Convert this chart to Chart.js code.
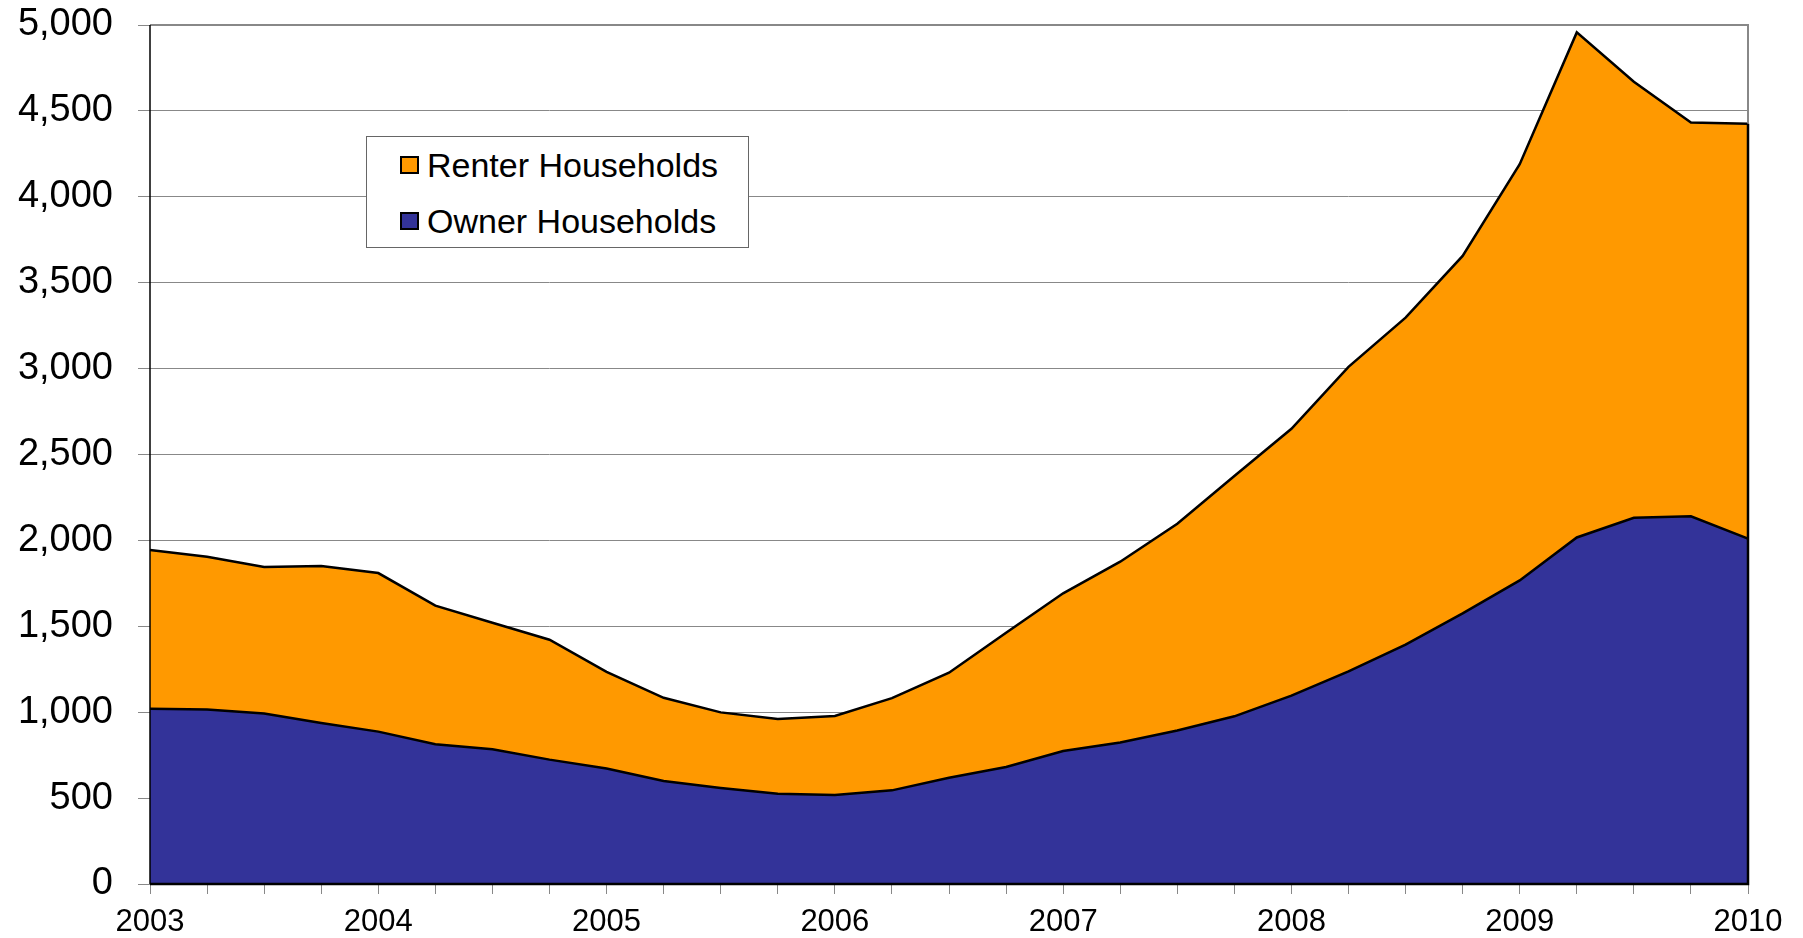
<!DOCTYPE html>
<html lang="en">

<head>
    <meta charset="UTF-8">
    <title>Renter and Owner Households</title>
    <script src="https://cdn.jsdelivr.net/npm/chart.js"></script>
    <style>
        body { margin: 0; background: #fff; overflow: hidden; }
        .box { position: relative; width: 1803px; height: 938px; }
        #legend {
            position: absolute; left: 366px; top: 136px; width: 383px; height: 112px;
            box-sizing: border-box; border: 1px solid #666; background: #fff;
            font-family: "Liberation Sans", Arial, sans-serif; font-size: 34px; color: #000;
        }
        .item { position: absolute; left: 33px; height: 40px; display: flex; align-items: center; white-space: nowrap; }
        .mark { width: 19px; height: 18px; box-sizing: border-box; border: 2px solid #000; margin-right: 8px; }
    </style>
</head>

<body>
    <div class="box">
        <canvas id="grafico" width="1803" height="938"></canvas>
        <div id="legend"></div>
    </div>

    <script>
        // quarterly data, thousands of households
        const quarters = [
            '2003 Q1', '2003 Q2', '2003 Q3', '2003 Q4',
            '2004 Q1', '2004 Q2', '2004 Q3', '2004 Q4',
            '2005 Q1', '2005 Q2', '2005 Q3', '2005 Q4',
            '2006 Q1', '2006 Q2', '2006 Q3', '2006 Q4',
            '2007 Q1', '2007 Q2', '2007 Q3', '2007 Q4',
            '2008 Q1', '2008 Q2', '2008 Q3', '2008 Q4',
            '2009 Q1', '2009 Q2', '2009 Q3', '2009 Q4',
            '2010 Q1'
        ];
        const ownerHouseholds = [
            1020, 1016, 993, 937, 887, 813, 784, 724,
            672, 599, 559, 526, 518, 545, 619, 681,
            774, 824, 894, 976, 1096, 1238, 1393, 1575,
            1767, 2017, 2132, 2140, 2010
        ];
        const renterHouseholds = [
            924, 889, 852, 914, 923, 807, 737, 698,
            563, 485, 440, 434, 460, 537, 611, 782,
            918, 1052, 1203, 1399, 1554, 1772, 1904, 2081,
            2423, 2940, 2538, 2293, 2415
        ];
        const yMin = 0, yMax = 5000, yStep = 500;

        const fonte = "'Liberation Sans', Arial, sans-serif";

        // gray frame on top/right, black axis lines and the closing edge of the areas
        const moldura = {
            id: 'moldura',
            afterDatasetsDraw(chart) {
                const { ctx, chartArea: a } = chart;
                const ultimo = chart.getDatasetMeta(1).data[quarters.length - 1];
                ctx.save();
                ctx.strokeStyle = '#888';
                ctx.lineWidth = 2;
                ctx.beginPath();
                ctx.moveTo(a.left, a.top);
                ctx.lineTo(a.right, a.top);
                ctx.lineTo(a.right, ultimo.y);
                ctx.stroke();
                ctx.strokeStyle = '#000';
                ctx.lineWidth = 2.5;
                ctx.beginPath();
                ctx.moveTo(a.right, ultimo.y);
                ctx.lineTo(a.right, a.bottom);
                ctx.lineTo(a.left, a.bottom);
                ctx.stroke();
                ctx.lineWidth = 1.5;
                ctx.beginPath();
                ctx.moveTo(a.left, a.top);
                ctx.lineTo(a.left, a.bottom);
                ctx.stroke();
                ctx.restore();
            }
        };

        const ctx = document.getElementById('grafico').getContext('2d');
        const grafico = new Chart(ctx, {
            type: 'line',
            data: {
                labels: quarters,
                datasets: [{
                    label: 'Owner Households',
                    data: ownerHouseholds,
                    backgroundColor: '#333399',
                    borderColor: '#000',
                    borderWidth: 2.5,
                    fill: 'origin',
                    pointRadius: 0,
                    tension: 0
                }, {
                    label: 'Renter Households',
                    data: renterHouseholds,
                    backgroundColor: '#FF9900',
                    borderColor: '#000',
                    borderWidth: 2.5,
                    fill: '-1',
                    pointRadius: 0,
                    tension: 0
                }]
            },
            options: {
                responsive: false,
                animation: false,
                layout: { padding: { top: 25, right: 55, bottom: 0, left: 0 } },
                scales: {
                    x: {
                        offset: false,
                        grid: { display: true, drawOnChartArea: false, tickLength: 10, color: '#888', lineWidth: 1 },
                        border: { display: false },
                        ticks: {
                            autoSkip: false,
                            maxRotation: 0,
                            padding: 10,
                            color: '#000',
                            font: { family: fonte, size: 31 },
                            callback: function (value) {
                                const q = this.getLabelForValue(value);
                                return q.endsWith('Q1') ? q.slice(0, 4) : '';
                            }
                        },
                        afterFit: function (scale) { scale.height = 54; }
                    },
                    y: {
                        stacked: true,
                        min: yMin,
                        max: yMax,
                        grid: { color: '#888', lineWidth: 1, tickLength: 12 },
                        border: { display: false },
                        ticks: {
                            stepSize: yStep,
                            padding: 25,
                            color: '#000',
                            font: { family: fonte, size: 38 },
                            callback: function (value) { return value.toLocaleString('en-US'); }
                        },
                        afterFit: function (scale) {
                            scale.width = 150;
                            scale.paddingTop = 0;
                            scale.paddingBottom = 0;
                        }
                    }
                },
                plugins: {
                    legend: { display: false },
                    tooltip: { enabled: false }
                }
            },
            plugins: [moldura]
        });

        // legend box inside the plot, renter listed first
        const legenda = document.getElementById('legend');
        grafico.data.datasets.slice().reverse().forEach(function (ds, i) {
            const item = document.createElement('div');
            item.className = 'item';
            item.style.top = (i === 0 ? 8 : 64) + 'px';
            item.innerHTML = '<span class="mark" style="background:' + ds.backgroundColor + '"></span>' + ds.label;
            legenda.appendChild(item);
        });
    </script>
</body>

</html>
